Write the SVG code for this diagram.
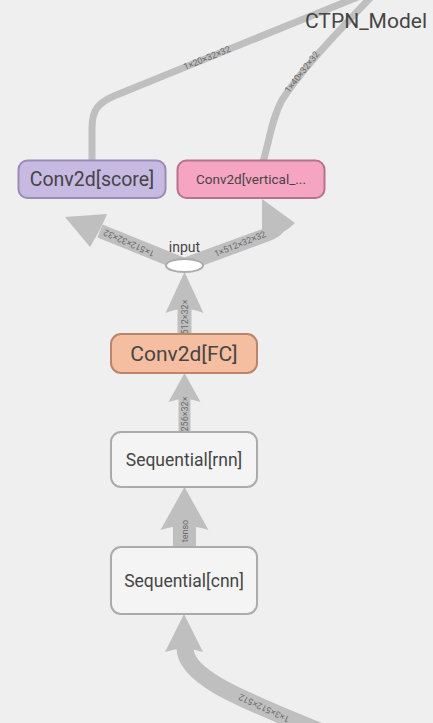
<svg xmlns="http://www.w3.org/2000/svg" width="433" height="723" viewBox="0 0 433 723">
<style>
  .bg { fill: #efefef; }
  .edge { fill: none; stroke: #bfbfbf; stroke-linecap: butt; stroke-linejoin: round; }
  .head { fill: #bfbfbf; stroke: none; }
  .elabel { font-family: Roboto, "Liberation Sans", sans-serif; font-size: 9px; fill: #6a6a6a; text-anchor: middle; dominant-baseline: central; }
  .nlabel { font-family: Roboto, "Liberation Sans", sans-serif; fill: #454545; text-anchor: middle; }
  .node rect { stroke-width: 2; }
  .seq { fill: #f4f4f4; stroke: #ababab; }
  .score { fill: #c6b9e2; stroke: #9b8bb3; }
  .vert { fill: #f5a4c1; stroke: #b7738b; }
  .fc { fill: #f5bea0; stroke: #b9866b; }
</style>
<rect class="bg" x="0" y="0" width="433" height="723"/>

<g id="edges">
  <!-- score -> CTPN_Model -->
  <path class="edge" stroke-width="7" d="M 92 162 L 92 128 C 92 110 98 103 114 96 L 370 -8"/>
  <text class="elabel" transform="translate(207,58) rotate(-22)">1×20×32×32</text>
  <!-- vertical -> CTPN_Model -->
  <path class="edge" stroke-width="7" d="M 263 162 C 270 138 272 118 282 100 C 300 72 330 40 372 -4"/>
  <text class="elabel" transform="translate(302,72) rotate(-52)">1×40×32×32</text>

  <!-- input -> score -->
  <path class="edge" stroke-width="14" d="M 184 265 L 100 231"/>
  <path class="head" d="M 107 214 L 65 217 L 90 247 Q 102 227 107 214 Z"/>
  <text class="elabel" transform="translate(129,243) rotate(204)">1×512×32×32</text>

  <!-- input -> vertical -->
  <path class="edge" stroke-width="14" d="M 184 265 L 266 235 Q 284 228 275 222"/>
  <path class="head" d="M 295 223 L 262 199 L 262 240 Q 282 236 295 223 Z"/>
  <text class="elabel" transform="translate(240,244) rotate(-22)">1×512×32×32</text>

  <!-- FC -> input -->
  <path class="edge" stroke-width="14" d="M 184.5 336 L 184.5 308"/>
  <path class="head" d="M 165.5 313 L 184.5 272 L 203.5 313 Q 184.5 305 165.5 313 Z"/>
  <text class="elabel" transform="translate(184.5,317) rotate(-90)">512×32×</text>

  <!-- rnn -> FC -->
  <path class="edge" stroke-width="12" d="M 184.5 434 L 184.5 398"/>
  <path class="head" d="M 168.5 402 L 184.5 373 L 200.5 402 Q 184.5 396 168.5 402 Z"/>
  <text class="elabel" transform="translate(184.5,414) rotate(-90)">256×32×</text>

  <!-- cnn -> rnn -->
  <path class="edge" stroke-width="23" d="M 184.5 549 L 184.5 524"/>
  <path class="head" d="M 160.5 530 L 184.5 487 L 208.5 530 Q 184.5 522 160.5 530 Z"/>
  <text class="elabel" transform="translate(184.5,531) rotate(-90)">tenso</text>

  <!-- external -> cnn -->
  <path class="edge" stroke-width="17" d="M 345 742 C 262 706 185 682 185 648"/>
  <path class="head" d="M 165 652 L 184 614 L 203 652 Q 184 645 165 652 Z"/>
  <text class="elabel" transform="translate(264,708) rotate(205)">1×3×512×512</text>
</g>

<g id="node-CTPN_Model">
  <text class="nlabel" x="305" y="28" font-size="21" style="text-anchor:start">CTPN_Model</text>
</g>

<g id="node-score" class="node">
  <rect class="score" x="18.5" y="160.5" width="147" height="37.5" rx="9"/>
  <text class="nlabel" x="92" y="186" font-size="19.5">Conv2d[score]</text>
</g>

<g id="node-vertical" class="node">
  <rect class="vert" x="177.5" y="160.5" width="147" height="37.5" rx="9"/>
  <text class="nlabel" x="251" y="184" font-size="13.5">Conv2d[vertical_...</text>
</g>

<g id="node-input">
  <ellipse cx="184.5" cy="265.5" rx="18.5" ry="6.5" fill="#ffffff" stroke="#ababab" stroke-width="2"/>
  <text class="nlabel" x="184.5" y="252" font-size="14">input</text>
</g>

<g id="node-FC" class="node">
  <rect class="fc" x="111" y="334" width="146" height="39" rx="10"/>
  <text class="nlabel" x="184" y="361" font-size="21">Conv2d[FC]</text>
</g>

<g id="node-rnn" class="node">
  <rect class="seq" x="111" y="432" width="146" height="55" rx="10"/>
  <text class="nlabel" x="184" y="466" font-size="17.5">Sequential[rnn]</text>
</g>

<g id="node-cnn" class="node">
  <rect class="seq" x="111" y="547" width="146" height="67" rx="10"/>
  <text class="nlabel" x="184" y="587" font-size="17.5">Sequential[cnn]</text>
</g>
</svg>
